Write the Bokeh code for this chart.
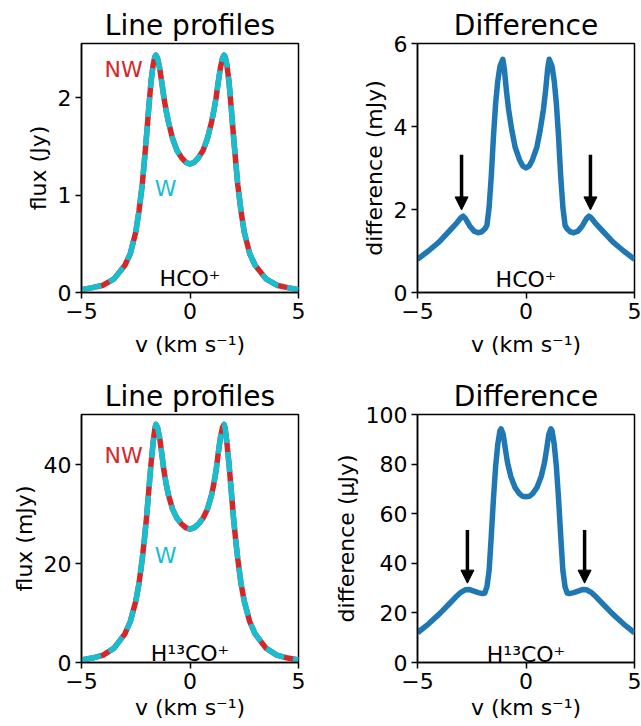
from bokeh.plotting import figure
from bokeh.models import Range1d, FixedTicker, Arrow, NormalHead
from bokeh.layouts import column, row
from bokeh.embed import file_html
from bokeh.resources import INLINE
from bokeh.core.properties import value

FONT = "DejaVu Sans"
RED = "#d62728"
CYAN = "#17becf"
BLUE = "#1f77b4"

# ---------------- data ----------------
# line-profile velocity grid (km/s)
v_prof = [-5.0, -4.5, -4.0, -3.5, -3.0, -2.75, -2.5, -2.35, -2.2, -2.1, -2.0, -1.9,
          -1.8, -1.7, -1.62, -1.57, -1.5, -1.4, -1.3, -1.2, -1.1, -1.0, -0.8, -0.6,
          -0.4, -0.2, 0.0, 0.2, 0.4, 0.6, 0.8, 1.0, 1.1, 1.2, 1.3, 1.4, 1.5, 1.57,
          1.62, 1.7, 1.8, 1.9, 2.0, 2.1, 2.2, 2.35, 2.5, 2.75, 3.0, 3.5, 4.0, 4.5, 5.0]
# HCO+ profile (Jy), NW and W coincide at this scale
hco_nw = [0.03, 0.05, 0.075, 0.14, 0.28, 0.40, 0.62, 0.84, 1.11, 1.36, 1.62, 1.90,
          2.16, 2.34, 2.42, 2.44, 2.41, 2.31, 2.16, 2.00, 1.87, 1.76, 1.58, 1.46,
          1.39, 1.34, 1.32, 1.34, 1.39, 1.46, 1.58, 1.76, 1.87, 2.00, 2.16, 2.31, 2.41, 2.44,
          2.42, 2.34, 2.16, 1.90, 1.62, 1.36, 1.11, 0.84, 0.62, 0.40, 0.28, 0.14, 0.075, 0.05, 0.03]
hco_w = [0.03, 0.05, 0.075, 0.14, 0.28, 0.40, 0.62, 0.84, 1.11, 1.36, 1.62, 1.90,
         2.16, 2.34, 2.42, 2.44, 2.41, 2.31, 2.16, 2.00, 1.87, 1.76, 1.58, 1.46,
         1.39, 1.34, 1.32, 1.34, 1.39, 1.46, 1.58, 1.76, 1.87, 2.00, 2.16, 2.31, 2.41, 2.44,
         2.42, 2.34, 2.16, 1.90, 1.62, 1.36, 1.11, 0.84, 0.62, 0.40, 0.28, 0.14, 0.075, 0.05, 0.03]
# H13CO+ profile (mJy)
h13_nw = [0.5, 0.9, 1.5, 2.9, 5.8, 8.3, 12.4, 16.0, 21.0, 25.0, 29.5, 34.8,
          40.0, 44.5, 47.4, 48.2, 47.6, 45.5, 42.3, 38.8, 36.2, 34.0, 31.0, 29.2,
          28.1, 27.3, 27.0, 27.3, 28.1, 29.2, 31.0, 34.0, 36.2, 38.8, 42.3, 45.5, 47.6, 48.2,
          47.4, 44.5, 40.0, 34.8, 29.5, 25.0, 21.0, 16.0, 12.4, 8.3, 5.8, 2.9, 1.5, 0.9, 0.5]
h13_w = [0.5, 0.9, 1.5, 2.9, 5.8, 8.3, 12.4, 16.0, 21.0, 25.0, 29.5, 34.8,
         40.0, 44.5, 47.4, 48.2, 47.6, 45.5, 42.3, 38.8, 36.2, 34.0, 31.0, 29.2,
         28.1, 27.3, 27.0, 27.3, 28.1, 29.2, 31.0, 34.0, 36.2, 38.8, 42.3, 45.5, 47.6, 48.2,
         47.4, 44.5, 40.0, 34.8, 29.5, 25.0, 21.0, 16.0, 12.4, 8.3, 5.8, 2.9, 1.5, 0.9, 0.5]

# difference velocity grid (km/s)
v_diff_hco = [-5.0, -4.5, -4.0, -3.5, -3.25, -3.0, -2.9, -2.8, -2.6, -2.4, -2.2, -2.05,
              -1.9, -1.8, -1.7, -1.6, -1.5, -1.4, -1.3, -1.2, -1.07, -1.0, -0.9, -0.8,
              -0.65, -0.5, -0.3, -0.15, 0.0, 0.15, 0.3, 0.5, 0.65, 0.8, 0.9, 1.0, 1.07,
              1.2, 1.3, 1.4, 1.5, 1.6, 1.7, 1.8, 1.9, 2.05, 2.2, 2.4, 2.6, 2.8, 2.9,
              3.0, 3.25, 3.5, 4.0, 4.5, 5.0]
# HCO+ difference (mJy)
diff_hco = [0.80, 1.00, 1.22, 1.50, 1.64, 1.80, 1.84, 1.79, 1.61, 1.48, 1.44, 1.46,
            1.53, 1.62, 2.05, 2.80, 3.75, 4.55, 5.10, 5.45, 5.62, 5.40, 4.85, 4.40,
            3.90, 3.50, 3.20, 3.05, 3.00, 3.05, 3.20, 3.50, 3.90, 4.40, 4.85, 5.40, 5.62,
            5.45, 5.10, 4.55, 3.75, 2.80, 2.05, 1.62, 1.53, 1.46, 1.44, 1.48, 1.61, 1.79, 1.84,
            1.80, 1.64, 1.50, 1.22, 1.00, 0.80]

v_diff_h13 = [-5.0, -4.5, -4.0, -3.5, -3.25, -3.0, -2.8, -2.6, -2.4, -2.2, -2.0, -1.9,
              -1.8, -1.7, -1.6, -1.5, -1.4, -1.3, -1.2, -1.15, -1.05, -0.95, -0.85, -0.7,
              -0.5, -0.3, -0.15, 0.0, 0.15, 0.3, 0.5, 0.7, 0.85, 0.95, 1.05, 1.15, 1.2,
              1.3, 1.4, 1.5, 1.6, 1.7, 1.8, 1.9, 2.0, 2.2, 2.4, 2.6, 2.8, 3.0, 3.25,
              3.5, 4.0, 4.5, 5.0]
# H13CO+ difference (microJy)
diff_h13 = [12.0, 15.5, 19.5, 24.0, 26.3, 28.3, 29.3, 29.4, 28.8, 28.2, 27.8, 28.0,
            30.5, 37.0, 51.0, 66.0, 79.0, 88.0, 93.5, 94.2, 92.0, 86.0, 80.5, 75.0,
            70.5, 68.0, 67.0, 66.8, 67.0, 68.0, 70.5, 75.0, 80.5, 86.0, 92.0, 94.2, 93.5,
            88.0, 79.0, 66.0, 51.0, 37.0, 30.5, 28.0, 27.8, 28.2, 28.8, 29.4, 29.3, 28.3, 26.3,
            24.0, 19.5, 15.5, 12.0]

# arrows marking the shoulders (x position, top, tip)
arrow_hco_v = [-2.97, 2.97]
arrow_hco_y = [3.32, 1.99]
arrow_h13_v = [-2.70, 2.70]
arrow_h13_y = [53.4, 32.0]

x_ticks = [-5, 0, 5]
x_tick_labels = {-5: "\u22125", 0: "0", 5: "5"}
yt_hco_prof = [0, 1, 2]
yt_hco_diff = [0, 2, 4, 6]
yt_h13_prof = [0, 20, 40]
yt_h13_diff = [0, 20, 40, 60, 80, 100]

XLABEL = "v (km s\u207b\u00b9)"


def make_fig(width, height, ymax, yticks, left, right, top, bottom, title, ylabel, xlab_standoff):
    p = figure(width=width, height=height, x_range=Range1d(-5, 5), y_range=Range1d(0, ymax),
               output_backend="svg", toolbar_location=None, title=title,
               min_border_left=left, min_border_right=right,
               min_border_top=top, min_border_bottom=bottom)
    p.title.text_font = FONT
    p.title.text_font_size = "28px"
    p.title.text_font_style = "normal"
    p.title.text_color = "black"
    p.title.align = "center"
    p.title.standoff = 3
    p.xgrid.visible = False
    p.ygrid.visible = False
    p.outline_line_color = "black"
    p.outline_line_width = 1.5
    p.outline_line_alpha = 1.0
    p.background_fill_color = "white"
    p.border_fill_color = "white"
    p.xaxis.ticker = FixedTicker(ticks=x_ticks)
    p.xaxis.major_label_overrides = x_tick_labels
    p.yaxis.ticker = FixedTicker(ticks=yticks)
    p.xaxis.axis_label = XLABEL
    p.yaxis.axis_label = ylabel
    for ax in (p.xaxis[0], p.yaxis[0]):
        ax.axis_line_color = "black"
        ax.axis_line_width = 1.5
        ax.major_tick_line_color = "black"
        ax.major_tick_line_width = 1.5
        ax.major_tick_out = 6
        ax.major_tick_in = 0
        ax.minor_tick_out = 0
        ax.minor_tick_in = 0
        ax.major_label_text_font = FONT
        ax.major_label_text_font_size = "22px"
        ax.major_label_text_color = "black"
        ax.major_label_standoff = 4
        ax.axis_label_text_font = FONT
        ax.axis_label_text_font_size = "22px"
        ax.axis_label_text_font_style = "normal"
        ax.axis_label_text_color = "black"
        ax.axis_label_standoff = 4
    p.xaxis[0].axis_label_standoff = xlab_standoff
    return p


def add_text(p, x, y, txt, color, align, baseline="middle"):
    p.text(x=[x], y=[y], text=[txt], text_font=value(FONT), text_font_size="22px",
           text_color=color, text_align=align, text_baseline=baseline)


def add_arrows(p, xs, ys):
    for x in xs:
        p.add_layout(Arrow(end=NormalHead(size=13, fill_color="black", line_color="black", line_width=1),
                           x_start=x, y_start=ys[0], x_end=x, y_end=ys[1],
                           line_color="black", line_width=3.5))


# top-left: HCO+ line profiles
p1 = make_fig(330, 363, 2.56, yt_hco_prof, 81, 32, 43, 71, "Line profiles", "flux (Jy)", 10)
p1.line(v_prof, hco_nw, line_color=RED, line_width=5.5, line_join="round")
p1.line(v_prof, hco_w, line_color=CYAN, line_width=5.5, line_dash="20 9", line_join="round")
add_text(p1, -3.94, 2.29, "NW", RED, "left")
add_text(p1, -1.62, 1.07, "W", CYAN, "left")
add_text(p1, 0.0, 0.146, "HCO\u207a", "black", "center", "alphabetic")

# top-right: HCO+ difference
p2 = make_fig(311, 363, 6, yt_hco_diff, 87, 7, 43, 71, "Difference", "difference (mJy)", 10)
p2.line(v_diff_hco, diff_hco, line_color=BLUE, line_width=5.5, line_join="round")
add_arrows(p2, arrow_hco_v, arrow_hco_y)
add_text(p2, 0.0, 0.31, "HCO\u207a", "black", "center", "alphabetic")

# bottom-left: H13CO+ line profiles
p3 = make_fig(330, 363, 50.2, yt_h13_prof, 81, 32, 51, 64, "Line profiles", "flux (mJy)", 3)
p3.line(v_prof, h13_nw, line_color=RED, line_width=5.5, line_join="round")
p3.line(v_prof, h13_w, line_color=CYAN, line_width=5.5, line_dash="20 9", line_join="round")
add_text(p3, -3.94, 41.8, "NW", RED, "left")
add_text(p3, -1.62, 21.6, "W", CYAN, "left")
add_text(p3, 0.0, 1.8, "H\u00b9\u00b3CO\u207a", "black", "center", "alphabetic")

# bottom-right: H13CO+ difference
p4 = make_fig(311, 363, 100, yt_h13_diff, 87, 7, 51, 64, "Difference", "difference (\u03bcJy)", 3)
p4.line(v_diff_h13, diff_h13, line_color=BLUE, line_width=5.5, line_join="round")
add_arrows(p4, arrow_h13_v, arrow_h13_y)
add_text(p4, 0.0, 3.1, "H\u00b9\u00b3CO\u207a", "black", "center", "alphabetic")

layout = column(row(p1, p2), row(p3, p4))

with open("out.html", "w") as f:
    f.write(file_html(layout, INLINE))
